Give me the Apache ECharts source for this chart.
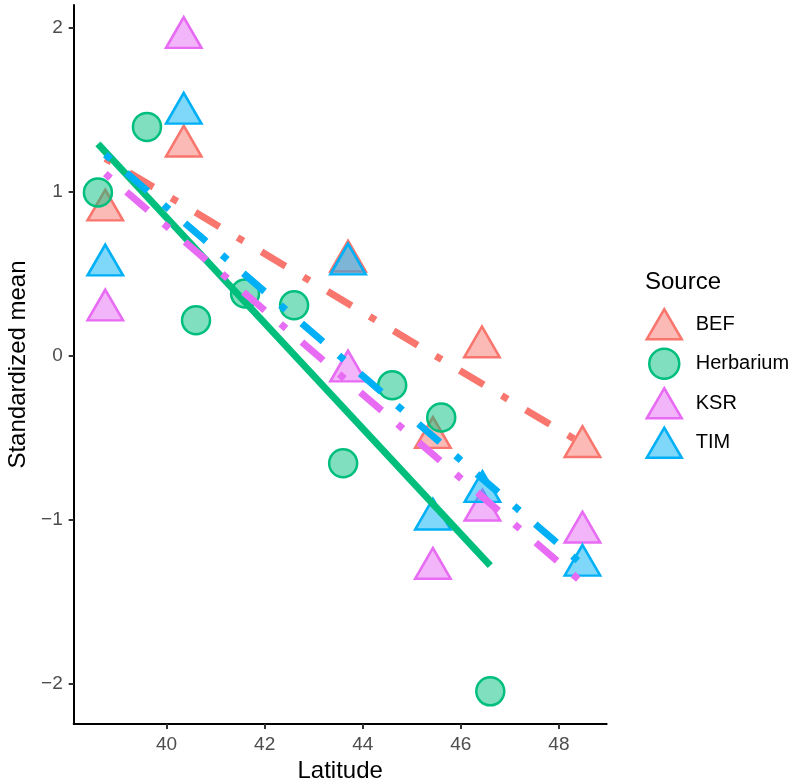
<!DOCTYPE html>
<html>
<head>
<meta charset="utf-8">
<script src="https://cdn.jsdelivr.net/npm/echarts@6/dist/echarts.min.js"></script>
<style>
html,body{margin:0;padding:0;background:#fff;}
#chart{width:793px;height:783px;}
</style>
</head>
<body>
<div id="chart"></div>
<script>
// ---- data ----
const sources = ['BEF', 'Herbarium', 'KSR', 'TIM'];
const colors = ['#F8766D', '#00BF7D', '#E76BF3', '#00B0F6'];
const fills = ['rgba(248,118,109,0.5)', 'rgba(0,191,125,0.5)', 'rgba(231,107,243,0.5)', 'rgba(0,176,246,0.5)'];

const befLat = [38.75, 40.35, 43.70, 45.43, 46.43, 48.48];
const befMean = [0.886, 1.276, 0.575, -0.50, 0.052, -0.556];
const herbLat = [38.6, 39.6, 40.6, 41.6, 42.6, 43.6, 44.6, 45.6, 46.6];
const herbMean = [0.994, 1.394, 0.215, 0.378, 0.307, -0.657, -0.181, -0.378, -2.047];
const ksrLat = [38.75, 40.35, 43.70, 45.43, 46.44, 48.48];
const ksrMean = [0.277, 1.938, -0.095, -1.298, -0.943, -1.077];
const timLat = [38.75, 40.35, 43.70, 45.43, 46.44, 48.48];
const timMean = [0.551, 1.476, 0.557, -0.998, -0.830, -1.279];

// trend line end points (as drawn)
const befFitLat = [38.75, 48.48];
const befFitMean = [1.202, -0.538];
const herbFitLat = [38.6, 46.6];
const herbFitMean = [1.29, -1.28];
const ksrFitLat = [38.75, 48.48];
const ksrFitMean = [1.109, -1.384];
const timFitLat = [38.75, 48.48];
const timFitMean = [1.225, -1.275];

const xTicks = [40, 42, 44, 46, 48];
const yTicks = [-2, -1, 0, 1, 2];

// ---- build ----
const FONT = 'Liberation Sans, Arial, Helvetica, sans-serif';
const pts = [[befLat, befMean], [herbLat, herbMean], [ksrLat, ksrMean], [timLat, timMean]];
const fits = [[befFitLat, befFitMean], [herbFitLat, herbFitMean], [ksrFitLat, ksrFitMean], [timFitLat, timFitMean]];
const zip = (a, b) => a.map((v, i) => [v, b[i]]);
const fmt = v => (v < 0 ? '\u2212' + Math.abs(v) : String(v));

const series = [];
sources.forEach((s, i) => {
  const isCircle = s === 'Herbarium';
  series.push({
    name: s,
    type: 'scatter',
    z: 2,
    data: zip(pts[i][0], pts[i][1]),
    symbol: isCircle ? 'circle' : 'triangle',
    symbolSize: isCircle ? 28 : [35.5, 30.7],
    symbolOffset: isCircle ? [0, 0] : [0, '-16.67%'],
    itemStyle: { color: fills[i], borderColor: colors[i], borderWidth: 2.5, opacity: 1 },
    emphasis: { disabled: true }
  });
});
sources.forEach((s, i) => {
  const solid = s === 'Herbarium';
  series.push({
    name: s + ' fit',
    type: 'line',
    z: 3 + i,
    data: zip(fits[i][0], fits[i][1]),
    symbol: 'none',
    lineStyle: {
      color: colors[i],
      width: 7,
      cap: 'butt',
      type: solid ? 'solid' : [7, 21, 28, 21]
    },
    emphasis: { disabled: true }
  });
});

const chart = echarts.init(document.getElementById('chart'), null, { renderer: 'canvas' });
chart.setOption({
  animation: false,
  backgroundColor: '#ffffff',
  textStyle: { fontFamily: FONT },
  title: {
    text: 'Source',
    left: 645,
    top: 270,
    padding: 0,
    textStyle: { fontFamily: FONT, fontSize: 24, fontWeight: 'normal', color: '#000' }
  },
  legend: {
    orient: 'vertical',
    left: 645.5,
    top: 308,
    padding: 0,
    itemWidth: 35,
    itemHeight: 30,
    itemGap: 7,
    data: sources.map((s, i) => ({
      name: s,
      icon: s === 'Herbarium' ? 'circle' : 'triangle',
      itemStyle: { color: fills[i], borderColor: colors[i], borderWidth: 2.5 }
    })),
    textStyle: { fontFamily: FONT, fontSize: 20, color: '#000', padding: [0, 0, 0, 9] },
    selectedMode: false
  },
  grid: { left: 73.7, right: 186.3, top: 5, bottom: 59, containLabel: false, outerBoundsMode: 'none' },
  xAxis: {
    type: 'value',
    min: 38.106,
    max: 48.974,
    name: 'Latitude',
    nameLocation: 'middle',
    nameGap: 31,
    nameTextStyle: { fontFamily: FONT, fontSize: 24, color: '#000' },
    axisLine: { show: true, onZero: false, lineStyle: { color: '#000', width: 2 } },
    axisTick: { show: true, length: 5, customValues: xTicks, lineStyle: { color: '#333', width: 2 } },
    axisLabel: { customValues: xTicks, margin: 11, fontSize: 19, color: '#4D4D4D', fontFamily: FONT, formatter: fmt },
    splitLine: { show: false }
  },
  yAxis: {
    type: 'value',
    min: -2.246,
    max: 2.137,
    name: 'Standardized mean',
    nameLocation: 'middle',
    nameGap: 42,
    nameTextStyle: { fontFamily: FONT, fontSize: 24, color: '#000' },
    axisLine: { show: true, onZero: false, lineStyle: { color: '#000', width: 2 } },
    axisTick: { show: true, length: 5, customValues: yTicks, lineStyle: { color: '#333', width: 2 } },
    axisLabel: { customValues: yTicks, margin: 11, fontSize: 19, color: '#4D4D4D', fontFamily: FONT, formatter: fmt },
    splitLine: { show: false }
  },
  series: series
});
</script>
</body>
</html>
